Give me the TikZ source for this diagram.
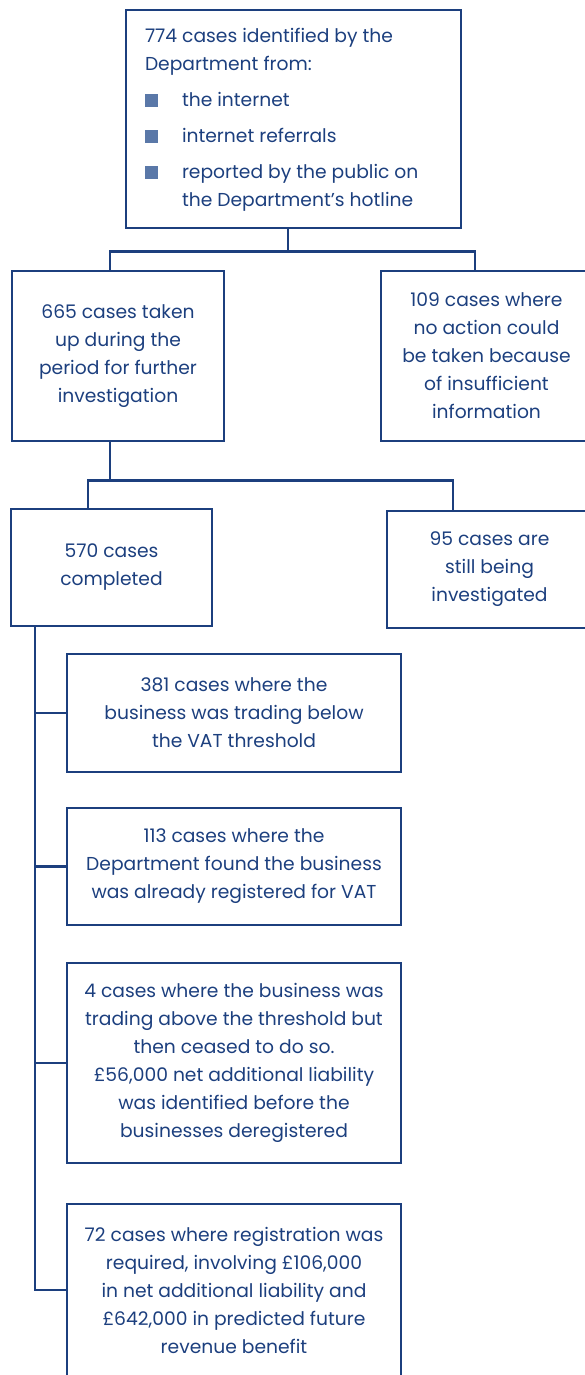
\documentclass[tikz,border=0pt]{standalone}
\usepackage{fontspec}
\setmainfont{Poppins}
\usepackage{array}
\definecolor{navy}{HTML}{1C3F7E}
\definecolor{bulletblue}{HTML}{5A78A8}
\newcommand{\sqbullet}{\textcolor{bulletblue}{\rule{13pt}{13pt}}}
\tikzset{
  box/.style={draw=navy, line width=2.8pt, text=navy, align=center, inner sep=0pt,
    font=\fontsize{18.7}{28}\selectfont},
  link/.style={draw=navy, line width=2.8pt}
}
\begin{document}
\begin{tikzpicture}[x=1pt,y=1pt]
        \useasboundingbox (0,0) rectangle (584,-1375);

        \node[box, minimum width=335pt, minimum height=218pt] (top) at (293.5,-119)
          {\begin{tabular}{@{}p{37pt}@{}p{260pt}@{}}
            \multicolumn{2}{@{}l@{}}{774 cases identified by the}\\
            \multicolumn{2}{@{}l@{}}{Department from:}\\[8pt]
            \sqbullet & the internet\\[8pt]
            \sqbullet & internet referrals\\[8pt]
            \sqbullet & reported by the public on\\
                      & the Department’s hotline
          \end{tabular}};

        \node[box, minimum width=212pt, minimum height=170pt] (n665) at (118,-356)
          {665 cases taken\\ up during the\\ period for further\\ investigation};
        \node[box, minimum width=211pt, minimum height=170pt] (n109) at (486.5,-356)
          {109 cases where\\ no action could\\ be taken because\\ of insufficient\\ information};

        \node[box, minimum width=201pt, minimum height=117pt] (n570) at (111.5,-567.5)
          {570 cases\\ completed};
        \node[box, minimum width=205pt, minimum height=117pt] (n95) at (489.5,-569.5)
          {95 cases are\\ still being\\ investigated};

        \node[box, minimum width=334pt, minimum height=118pt] (n381) at (234,-713)
          {381 cases where the\\ business was trading below\\ the VAT threshold};
        \node[box, minimum width=334pt, minimum height=117pt] (n113) at (234,-866.5)
          {113 cases where the\\ Department found the business\\ was already registered for VAT};
        \node[box, minimum width=334pt, minimum height=200pt] (n4) at (234,-1063)
          {4 cases where the business was\\ trading above the threshold but\\ then ceased to do so.\\
           £56,000 net additional liability\\ was identified before the\\ businesses deregistered};
        \node[box, minimum width=334pt, minimum height=172pt] (n72) at (234,-1290)
          {72 cases where registration was\\ required, involving £106,000\\ in net additional liability and\\
           £642,000 in predicted future\\ revenue benefit};

        \draw[link] ([xshift=-5.5pt]top.south) -- ++(0,-22) coordinate (j1);
        \draw[link] ([xshift=-8pt]n665.north) |- (j1) -| ([xshift=-11.5pt]n109.north);

        \draw[link] ([xshift=-8pt]n665.south) -- ++(0,-38) coordinate (j2);
        \draw[link] ([xshift=-23.5pt]n570.north) |- (j2) -| ([xshift=-36.5pt]n95.north);

        \draw[link] ([xshift=-76.5pt]n570.south) |- (n72.west);
        \foreach \child in {n381,n113,n4}
          \draw[link] ([xshift=-76.5pt]n570.south) |- (\child.west);
\end{tikzpicture}
\end{document}
